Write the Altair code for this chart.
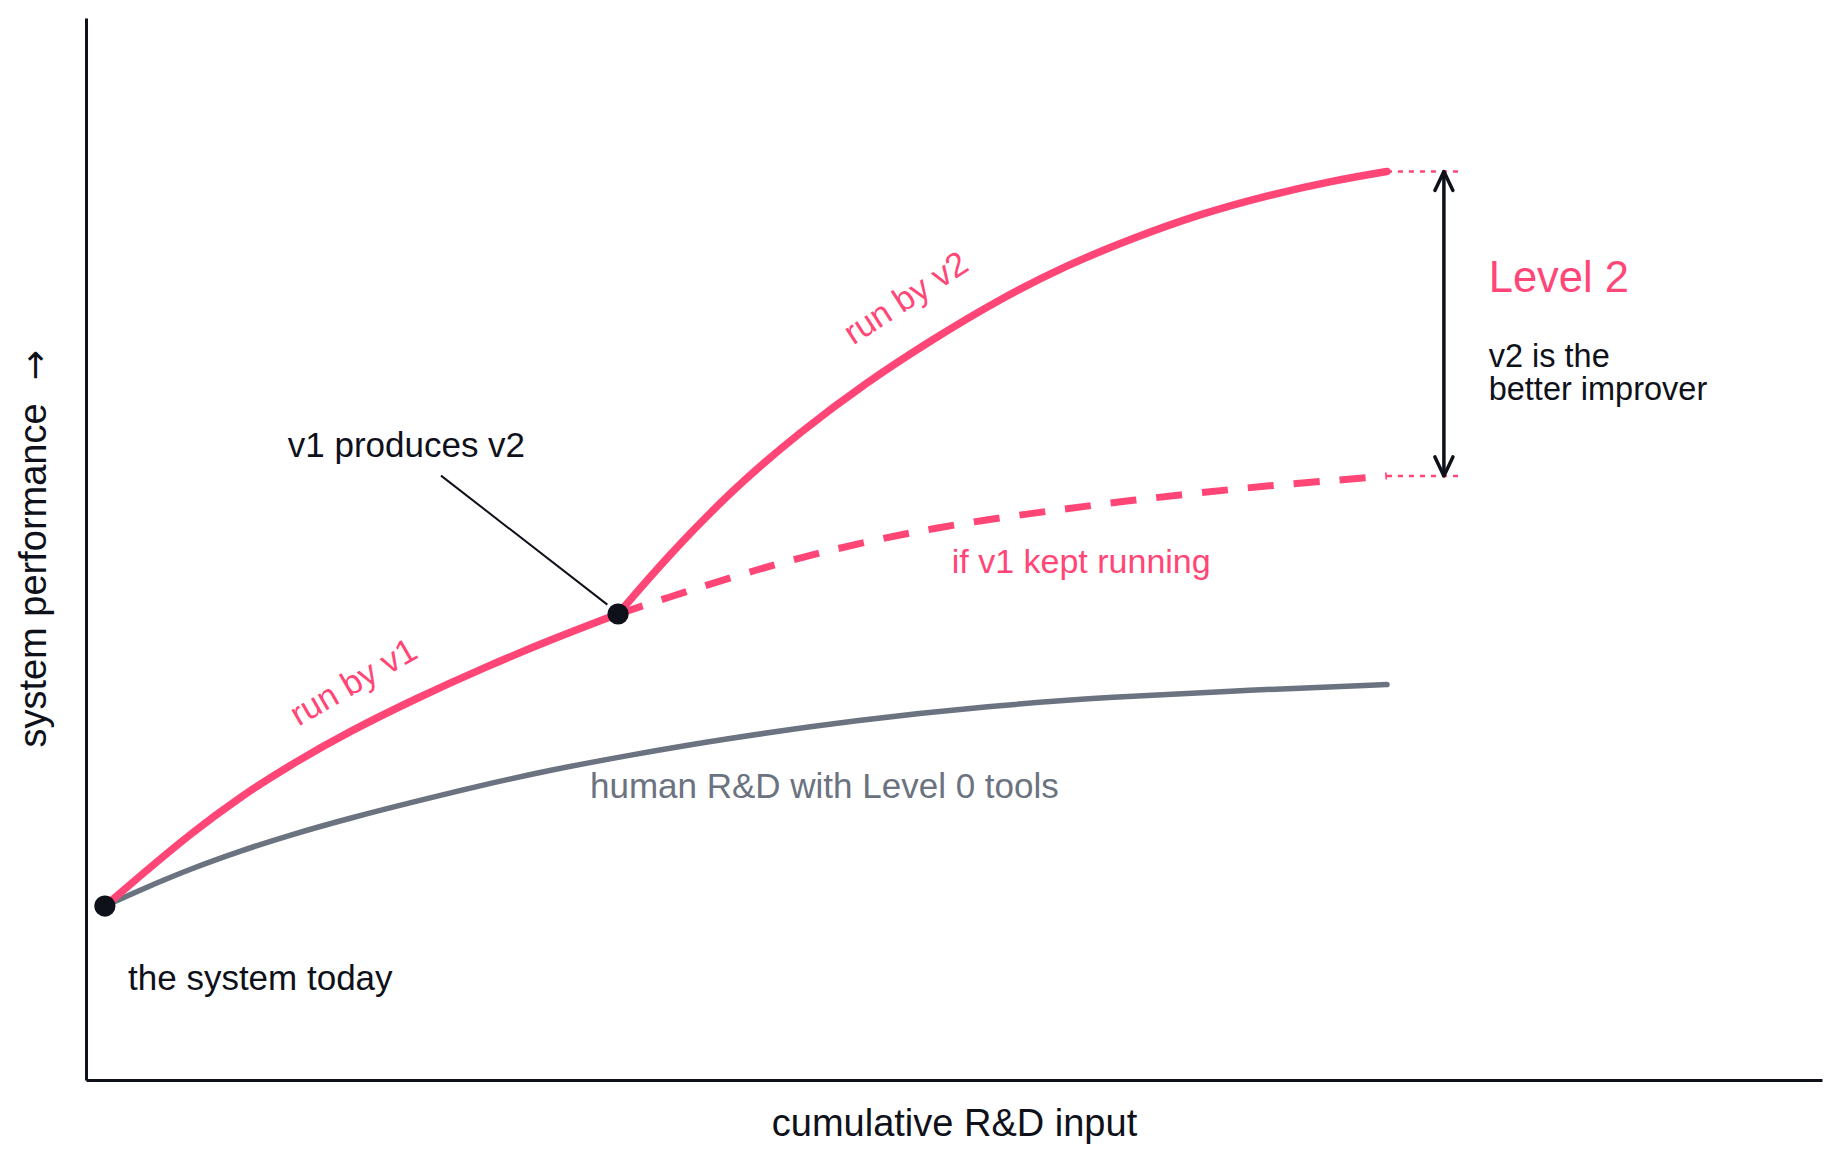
import altair as alt
import pandas as pd

# ---------------- data (in chart units: x 0..100, y 0..100) ----------------
v1_x = [1.09, 3.11, 5.99, 8.87, 11.75, 15.21, 19.07, 22.87, 26.73, 30.65]
v1_y = [16.38, 19.21, 23.16, 26.65, 29.66, 32.86, 35.97, 38.79, 41.43, 43.88]

v2_x = [30.65, 33.47, 37.27, 41.13, 44.99, 48.79, 52.65, 56.51, 60.31, 64.17, 68.03, 71.83, 74.94]
v2_y = [43.88, 49.25, 55.65, 61.02, 65.73, 69.77, 73.54, 76.74, 79.28, 81.54, 83.29, 84.68, 85.55]

kept_x = [30.65, 33.47, 37.27, 41.13, 44.99, 48.79, 52.65, 56.51, 60.31, 64.17, 68.03, 71.83, 74.94]
kept_y = [43.88, 45.40, 47.40, 49.20, 50.70, 51.95, 52.95, 53.80, 54.60, 55.30, 55.95, 56.45, 56.88]

human_x = [1.09, 3.11, 5.99, 8.87, 11.75, 15.21, 19.07, 22.87, 26.73, 31.34, 36.69, 44.41, 52.07, 58.99, 67.05, 74.94]
human_y = [16.38, 17.89, 19.87, 21.56, 23.07, 24.67, 26.27, 27.78, 29.19, 30.60, 32.11, 33.90, 35.22, 36.06, 36.72, 37.23]

dot_x = [1.09, 30.65]
dot_y = [16.38, 43.88]

gap_x = 78.22          # where the double arrow sits
gap_end_x = 79.07      # end of the dotted guides
gap_top = 85.55
gap_bottom = 56.88

leader = {"x": 20.45, "y": 56.91, "x2": 30.03, "y2": 44.76}

ink_labels = ["v1 produces v2", "the system today"]
ink_lx = [11.62, 2.42]
ink_ly = [58.63, 8.47]

note_labels = ["v2 is the", "better improver"]
note_lx = [80.80, 80.80]
note_ly = [67.17, 64.03]

pink_labels = ["if v1 kept running"]
pink_lx = [49.87]
pink_ly = [47.71]

level_label = ["Level 2"]
level_lx = [80.80]
level_ly = [74.23]

gray_labels = ["human R&D with Level 0 tools"]
gray_lx = [29.03]
gray_ly = [26.53]

run1_label = ["run by v1"]
run1_x, run1_y = [15.44], [37.38]
run2_label = ["run by v2"]
run2_x, run2_y = [47.26], [73.54]

y_title = "system performance"
y_arrow = ["→"]
y_arrow_x, y_arrow_y = [-2.9], [67.3]
x_title = "cumulative R&D input"

# ---------------- style ----------------
PINK = "#ff4676"
GRAY = "#6b7280"
INK = "#0f111a"
FONT = "Liberation Sans"

W, H = 1736, 1062

xscale = alt.Scale(domain=[0, 100], nice=False, zero=False)
yscale = alt.Scale(domain=[0, 100], nice=False, zero=False)

xaxis = alt.Axis(title=x_title, labels=False, ticks=False, grid=False,
                 domain=True, domainColor=INK, domainWidth=3,
                 titleFont=FONT, titleFontSize=38, titleFontWeight="normal",
                 titleColor=INK, titlePadding=25)
yaxis = alt.Axis(title=y_title, labels=False, ticks=False, grid=False,
                 domain=True, domainColor=INK, domainWidth=3,
                 titleFont=FONT, titleFontSize=38, titleFontWeight="normal",
                 titleColor=INK, titlePadding=33, titleY=557)


def X(field="x"):
    return alt.X(f"{field}:Q", scale=xscale, axis=xaxis)


def Y(field="y"):
    return alt.Y(f"{field}:Q", scale=yscale, axis=yaxis)


def line_df(xs, ys):
    return pd.DataFrame({"x": xs, "y": ys, "o": list(range(len(xs)))})


def text_df(labels, xs, ys):
    return pd.DataFrame({"label": labels, "x": xs, "y": ys})


human = alt.Chart(line_df(human_x, human_y)).mark_line(
    color=GRAY, strokeWidth=5.5, strokeCap="round", interpolate="basis"
).encode(x=X(), y=Y(), order="o:Q")

kept = alt.Chart(line_df(kept_x, kept_y)).mark_line(
    color=PINK, strokeWidth=7, strokeDash=[26, 20], strokeCap="butt", interpolate="basis"
).encode(x=X(), y=Y(), order="o:Q")

v1 = alt.Chart(line_df(v1_x, v1_y)).mark_line(
    color=PINK, strokeWidth=7.5, strokeCap="round", interpolate="basis"
).encode(x=X(), y=Y(), order="o:Q")

v2 = alt.Chart(line_df(v2_x, v2_y)).mark_line(
    color=PINK, strokeWidth=7.5, strokeCap="round", interpolate="basis"
).encode(x=X(), y=Y(), order="o:Q")

guides = alt.Chart(pd.DataFrame({
    "x": [v2_x[-1], kept_x[-1]], "x2": [gap_end_x, gap_end_x], "y": [gap_top, gap_bottom]
})).mark_rule(color=PINK, strokeWidth=2.5, strokeDash=[5, 6]).encode(
    x=X(), x2="x2:Q", y=Y()
)

arrow_shaft = alt.Chart(pd.DataFrame({"x": [gap_x], "y": [gap_top], "y2": [gap_bottom]})).mark_rule(
    color=INK, strokeWidth=3.5
).encode(x=X(), y=Y(), y2="y2:Q")

arrow_top = alt.Chart(pd.DataFrame({"x": [gap_x], "y": [gap_top]})).mark_point(
    shape="M -0.9 1.9 L 0 0 L 0.9 1.9", size=400, filled=False, stroke=INK,
    strokeWidth=3.5, strokeCap="round", strokeJoin="round", opacity=1
).encode(x=X(), y=Y())

arrow_bottom = alt.Chart(pd.DataFrame({"x": [gap_x], "y": [gap_bottom]})).mark_point(
    shape="M -0.9 -1.9 L 0 0 L 0.9 -1.9", size=400, filled=False, stroke=INK,
    strokeWidth=3.5, strokeCap="round", strokeJoin="round", opacity=1
).encode(x=X(), y=Y())

leader_line = alt.Chart(pd.DataFrame([leader])).mark_rule(color=INK, strokeWidth=2).encode(
    x=X(), y=Y(), x2="x2:Q", y2="y2:Q"
)

dots = alt.Chart(pd.DataFrame({"x": dot_x, "y": dot_y})).mark_circle(
    color=INK, size=450, opacity=1
).encode(x=X(), y=Y())


def labels(df, color, size, angle=None, align="left", baseline="alphabetic", font=FONT):
    kw = dict(color=color, fontSize=size, font=font, align=align, baseline=baseline)
    if angle is not None:
        kw["angle"] = angle
    return alt.Chart(df).mark_text(**kw).encode(x=X(), y=Y(), text="label:N")


t_ink = labels(text_df(ink_labels, ink_lx, ink_ly), INK, 35)
t_note = labels(text_df(note_labels, note_lx, note_ly), INK, 32.5)
t_pink = labels(text_df(pink_labels, pink_lx, pink_ly), PINK, 34)
t_level = labels(text_df(level_label, level_lx, level_ly), PINK, 43.5)
t_gray = labels(text_df(gray_labels, gray_lx, gray_ly), GRAY, 35)
t_run1 = labels(text_df(run1_label, run1_x, run1_y), PINK, 34, angle=330, align="center", baseline="middle")
t_run2 = labels(text_df(run2_label, run2_x, run2_y), PINK, 34, angle=327, align="center", baseline="middle")
t_arrow = labels(text_df(y_arrow, y_arrow_x, y_arrow_y), INK, 36, angle=270, align="center",
                 baseline="middle", font="DejaVu Sans")

chart = alt.layer(
    human, kept, v1, v2, guides, arrow_shaft, arrow_top, arrow_bottom, leader_line, dots,
    t_ink, t_note, t_pink, t_level, t_gray, t_run1, t_run2, t_arrow
).properties(
    width=W, height=H,
    autosize=alt.AutoSizeParams(type="none"),
    padding={"left": 86, "top": 18, "right": 19, "bottom": 82},
    background="white",
).configure_view(stroke=None)

chart.save("out.html", embed_options={"renderer": "svg", "actions": False})
